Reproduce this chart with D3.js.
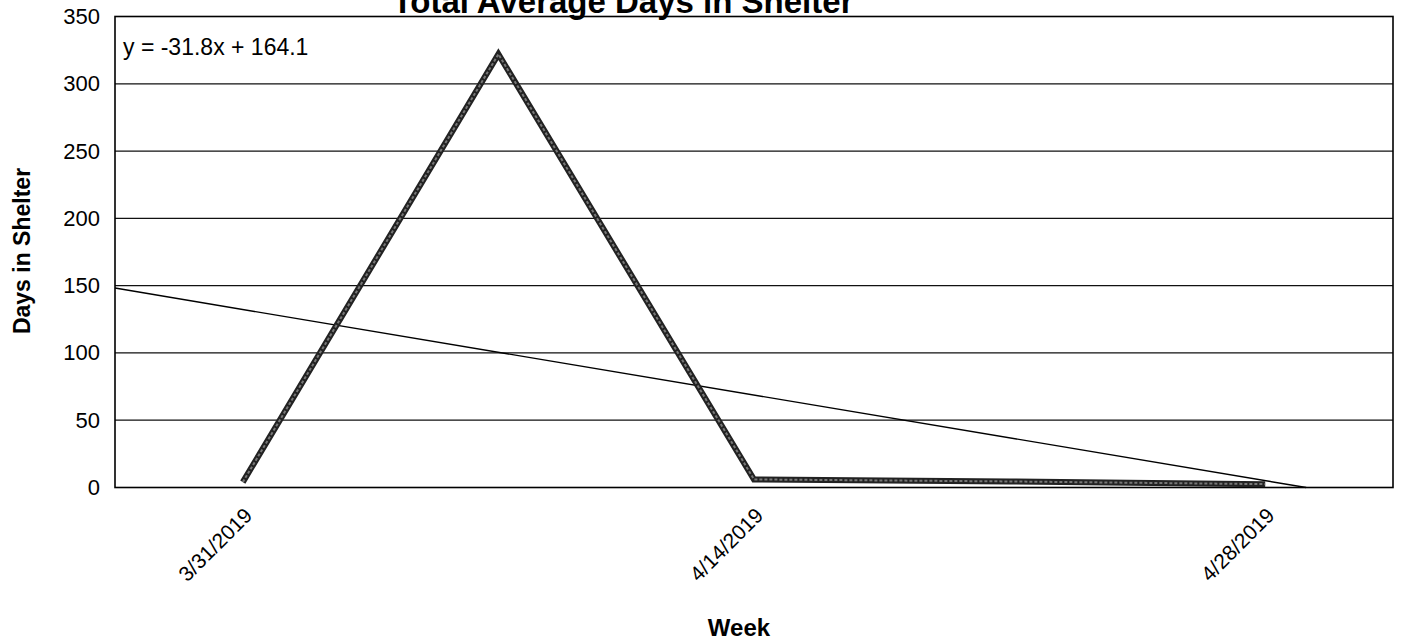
<!DOCTYPE html>
<html>
<head>
<meta charset="utf-8">
<script src="https://cdn.jsdelivr.net/npm/d3@7"></script>
<style>
  body { margin: 0; background: #fff; }
  svg { font-family: "Liberation Sans", Arial, sans-serif; }
</style>
</head>
<body>
<svg width="1403" height="642"></svg>
<script>
// @ Data
const weeks = ["3/31/2019", "4/7/2019", "4/14/2019", "4/21/2019", "4/28/2019"];
const days = [4, 322, 6, 4.5, 2.5];
const tickWeeks = ["3/31/2019", "4/14/2019", "4/28/2019"];
const yTicks = [0, 50, 100, 150, 200, 250, 300, 350];
const trendSlope = -31.8;
const trendIntercept = 164.1;

const svg = d3.select("svg");
const margin = { left: 115, right: 10, top: 16.5, bottom: 154.5 };
const width = 1403;
const height = 642;

// x is the week index 1..5 (as the trendline uses)
const x = d3.scaleLinear().domain([0.5, weeks.length + 0.5]).range([margin.left, width - margin.right]);
const y = d3.scaleLinear().domain([0, 350]).range([height - margin.bottom, margin.top]);

// @ gridlines
svg.append("g")
  .selectAll("line")
  .data(yTicks)
  .enter()
  .append("line")
  .attr("x1", x.range()[0])
  .attr("x2", x.range()[1])
  .attr("y1", (d) => y(d))
  .attr("y2", (d) => y(d))
  .attr("stroke", "#111")
  .attr("stroke-width", 1.2);

// plot border
svg.append("rect")
  .attr("x", x.range()[0])
  .attr("y", y(350))
  .attr("width", x.range()[1] - x.range()[0])
  .attr("height", y(0) - y(350))
  .attr("fill", "none")
  .attr("stroke", "#000")
  .attr("stroke-width", 1.6);

// @ y axis labels
const yAxis = svg.append("g")
  .attr("transform", `translate(${margin.left},0)`)
  .call(d3.axisLeft(y).tickValues(yTicks).tickSize(0).tickPadding(15));
yAxis.select(".domain").remove();
yAxis.selectAll("text")
  .style("font-size", "22px")
  .attr("fill", "#000");

// @ x axis labels
const xAxis = svg.append("g")
  .attr("transform", `translate(0,${y(0)})`)
  .call(
    d3.axisBottom(x)
      .tickValues(tickWeeks.map((d) => weeks.indexOf(d) + 1))
      .tickFormat((d) => weeks[d - 1])
      .tickSize(0)
  );
xAxis.select(".domain").remove();
xAxis.selectAll("text")
  .style("font-size", "21px")
  .attr("fill", "#000")
  .attr("text-anchor", "end")
  .attr("dy", 0)
  .attr("transform", "translate(8,27) rotate(-45)");

// @ trendline (linear, forecast to the left edge and down to zero)
const trendEnd = Math.min(weeks.length + 0.5, -trendIntercept / trendSlope);
const trend = (t) => trendSlope * t + trendIntercept;
svg.append("line")
  .attr("x1", x(0.5))
  .attr("y1", y(trend(0.5)))
  .attr("x2", x(trendEnd))
  .attr("y2", y(trend(trendEnd)))
  .attr("stroke", "#000")
  .attr("stroke-width", 1.4);

svg.append("text")
  .text(`y = ${trendSlope}x + ${trendIntercept}`)
  .attr("x", margin.left + 8)
  .attr("y", 55)
  .style("font-size", "23px");

// @ data line
const line = d3.line()
  .x((d, i) => x(i + 1))
  .y((d) => y(d));

svg.append("path")
  .datum(days)
  .attr("d", line)
  .attr("fill", "none")
  .attr("stroke", "#222")
  .attr("stroke-width", 6)
  .attr("stroke-linejoin", "miter");

svg.append("path")
  .datum(days)
  .attr("d", line)
  .attr("fill", "none")
  .attr("stroke", "#777")
  .attr("stroke-width", 2)
  .attr("stroke-dasharray", "3 2");

// @ titles
svg.append("text")
  .text("Total Average Days in Shelter")
  .attr("x", 623)
  .attr("y", 13)
  .attr("text-anchor", "middle")
  .style("font-size", "33px")
  .style("font-weight", "bold");

svg.append("text")
  .text("Days in Shelter")
  .attr("transform", `translate(30,251) rotate(-90)`)
  .attr("text-anchor", "middle")
  .style("font-size", "23px")
  .style("font-weight", "bold");

svg.append("text")
  .text("Week")
  .attr("x", 739)
  .attr("y", 636)
  .attr("text-anchor", "middle")
  .style("font-size", "24px")
  .style("font-weight", "bold");
</script>
</body>
</html>
